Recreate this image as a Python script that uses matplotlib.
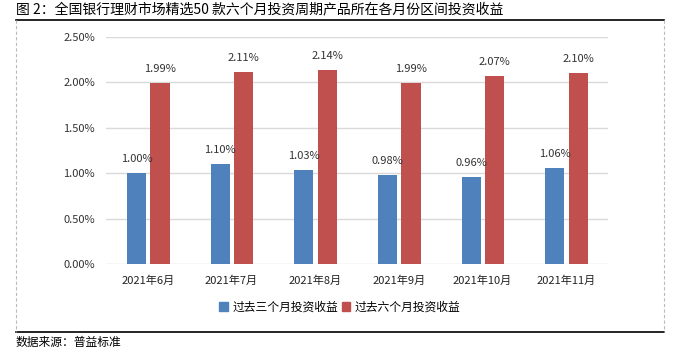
import matplotlib
matplotlib.use("Agg")
import matplotlib.pyplot as plt
import numpy as np
from matplotlib.patches import Patch
from matplotlib.lines import Line2D

plt.rcParams['font.family'] = ['Noto Sans CJK SC', 'DejaVu Sans']

# 数据
meses = ['2021年6月', '2021年7月', '2021年8月', '2021年9月', '2021年10月', '2021年11月']
tres_meses = [1.00, 1.10, 1.03, 0.98, 0.96, 1.06]
seis_meses = [1.99, 2.11, 2.14, 1.99, 2.07, 2.10]
yticks = [0.0, 0.5, 1.0, 1.5, 2.0, 2.5]

azul = '#4F81BD'
rojo = '#C0504D'

fig = plt.figure(figsize=(6.78, 3.53), dpi=100)
ax = fig.add_axes([106/678, 1-264/353, (608-106)/678, (264-37)/353])

x = np.arange(len(meses))
w = 0.23
b1 = ax.bar(x - 0.135, tres_meses, w, color=azul)
b2 = ax.bar(x + 0.145, seis_meses, w, color=rojo)

for rect, v in zip(b1, tres_meses):
    ax.text(rect.get_x() + rect.get_width()/2, v + 0.1, '%.2f%%' % v,
            ha='center', va='bottom', fontsize=8, color='#333333')
for rect, v in zip(b2, seis_meses):
    ax.text(rect.get_x() + rect.get_width()/2, v + 0.1, '%.2f%%' % v,
            ha='center', va='bottom', fontsize=8, color='#333333')

ax.set_xlim(-0.5, len(meses) - 0.5)
ax.set_ylim(0, 2.5)
ax.set_yticks(yticks)
ax.set_yticklabels(['%.2f%%' % t for t in yticks], fontsize=8, color='#333333')
ax.set_xticks(x)
ax.set_xticklabels(meses, fontsize=8, color='#222222')
ax.tick_params(axis='both', length=0)
ax.tick_params(axis='y', pad=8)
ax.tick_params(axis='x', pad=8)
ax.grid(axis='y', color='#D9D9D9', linewidth=1)
ax.set_axisbelow(True)
for s in ax.spines.values():
    s.set_visible(False)

# leyenda
handles = [Patch(color=azul), Patch(color=rojo)]
fig.legend(handles, ['过去三个月投资收益', '过去六个月投资收益'],
           loc='center', bbox_to_anchor=(340/678, 1-307/353), ncol=2,
           frameon=False, fontsize=8.5, handlelength=0.7, handleheight=0.7,
           handletextpad=0.4, columnspacing=0.3)

# titulo y fuente
fig.text(16/678, 1-9/353, '图 2：全国银行理财市场精选50 款六个月投资周期产品所在各月份区间投资收益',
         fontsize=10, va='center', ha='left')
fig.text(16/678, 1-342/353, '数据来源：普益标准', fontsize=8.5, va='center', ha='left')

# lineas del marco
fig.add_artist(Line2D([16/678, 664/678], [1-20/353, 1-20/353], color='black', lw=1.2))
fig.add_artist(Line2D([16/678, 664/678], [1-332/353, 1-332/353], color='black', lw=1.2))
fig.add_artist(Line2D([16/678, 16/678], [1-20/353, 1-332/353], color='#BBBBBB', lw=0.8, ls=(0, (3, 2))))
fig.add_artist(Line2D([664/678, 664/678], [1-20/353, 1-332/353], color='#BBBBBB', lw=0.8, ls=(0, (3, 2))))

fig.savefig('out.png', dpi=100)
